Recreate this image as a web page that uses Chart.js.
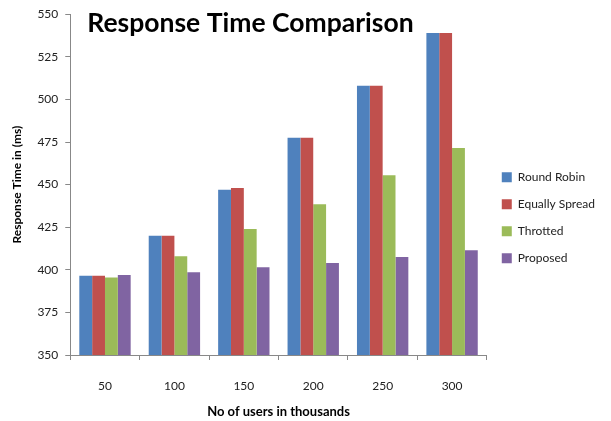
<!DOCTYPE html>
<html>
<head>
<meta charset="utf-8">
<script src="https://cdn.jsdelivr.net/npm/chart.js@4/dist/chart.umd.min.js"></script>
<style>
  html, body { margin: 0; padding: 0; background: #fff; }
  #wrap { width: 611px; height: 421px; position: relative; }
</style>
</head>
<body>
<div id="wrap"><canvas id="rtChart"></canvas></div>
<script>
// categories (no of users, thousands)
const users = ['50', '100', '150', '200', '250', '300'];

// response times in ms
const roundRobin    = [396.5, 420, 447, 477.5, 508, 539];
const equallySpread = [396.5, 420, 448, 477.5, 508, 539];
const throttled     = [395.5, 408, 424, 438.5, 455.5, 471.5];
const proposed      = [397, 398.5, 401.5, 404, 407.5, 411.5];

const yTicks = [350, 375, 400, 425, 450, 475, 500, 525, 550];

const FONT = 'Lato, "Open Sans", sans-serif';

// title sits inside the plot area, near its top-left corner
const innerTitle = {
    id: 'innerTitle',
    afterDraw(chart) {
        const c = chart.ctx, a = chart.chartArea;
        c.save();
        c.font = 'bold 26.5px ' + FONT;
        c.fillStyle = '#000';
        c.textBaseline = 'middle';
        c.fillText('Response Time Comparison', a.left + 17, 23);
        c.restore();
    }
};

function initChart() {
    const ctx = document.getElementById('rtChart').getContext('2d');
    new Chart(ctx, {
        type: 'bar',
        data: {
            labels: users,
            datasets: [
                { label: 'Round Robin', data: roundRobin, backgroundColor: '#4F81BD' },
                { label: 'Equally Spread', data: equallySpread, backgroundColor: '#C0504D' },
                { label: 'Throtted', data: throttled, backgroundColor: '#9BBB59' },
                { label: 'Proposed', data: proposed, backgroundColor: '#8064A2' }
            ]
        },
        options: {
            responsive: true,
            maintainAspectRatio: false,
            animation: false,
            datasets: { bar: { categoryPercentage: 0.74, barPercentage: 1 } },
            layout: { padding: { top: 14, left: 6, right: 6, bottom: 2 } },
            plugins: {
                legend: {
                    position: 'right',
                    title: { display: true, text: ' ', padding: { top: -12 } },
                    labels: {
                        boxWidth: 10,
                        boxHeight: 10,
                        padding: 15,
                        color: '#222',
                        font: { size: 12, family: FONT }
                    }
                },
                tooltip: { enabled: false }
            },
            scales: {
                x: {
                    grid: { drawOnChartArea: false, drawTicks: true, tickLength: 5, color: '#888' },
                    border: { color: '#888' },
                    ticks: { color: '#222', padding: 19, font: { size: 12, family: FONT } },
                    title: {
                        display: true,
                        text: 'No of users in thousands',
                        color: '#000',
                        padding: { top: -8, bottom: -1 },
                        font: { size: 13, weight: 'bold', family: FONT }
                    }
                },
                y: {
                    min: 350,
                    max: 550,
                    afterBuildTicks: axis => { axis.ticks = yTicks.map(v => ({ value: v })); },
                    grid: { drawOnChartArea: false, drawTicks: true, tickLength: 5, color: '#888' },
                    border: { color: '#888' },
                    ticks: { color: '#222', padding: 7, font: { size: 12, family: FONT } },
                    title: {
                        display: true,
                        text: 'Response Time in (ms)',
                        color: '#000',
                        padding: { bottom: 6 },
                        font: { size: 12, weight: 'bold', family: FONT }
                    }
                }
            }
        },
        plugins: [innerTitle]
    });
}

window.onload = () => {
    initChart();
};
</script>
</body>
</html>
